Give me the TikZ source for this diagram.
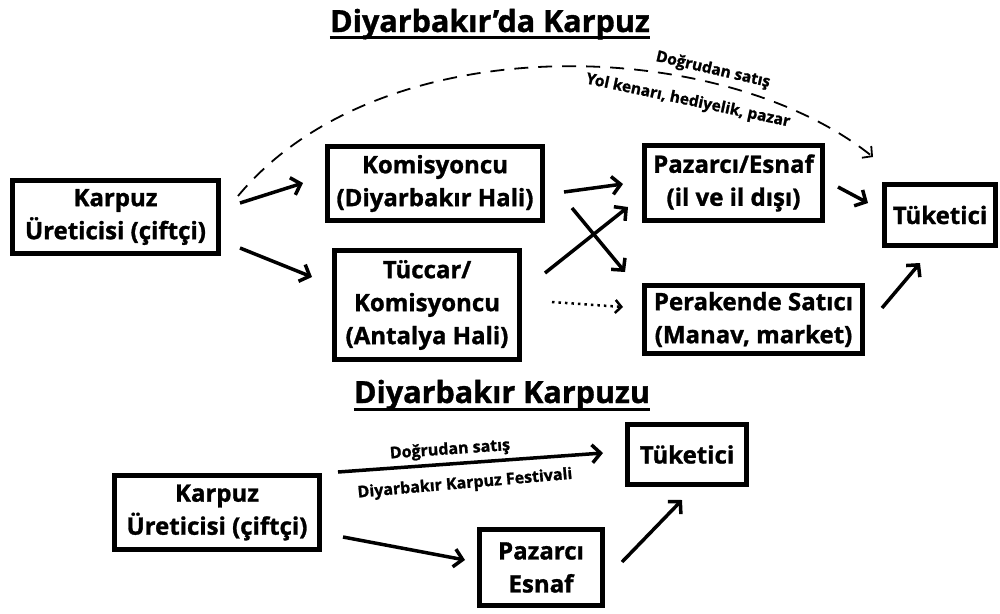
\documentclass[tikz,border=0pt]{standalone}
\usepackage{fontspec}
\setmainfont{Open Sans}[BoldFeatures={FakeBold=1.2}]
\usetikzlibrary{arrows.meta,calc}
\begin{document}
\begin{tikzpicture}[x=1pt,y=-1pt,
  box/.style={draw=black, line width=5pt, inner sep=0pt, align=center,
    font=\bfseries\fontsize{24}{33}\selectfont},
  heading/.style={anchor=base, inner sep=0pt, font=\bfseries\fontsize{30.5}{32}\selectfont},
  rule/.style={line width=3pt},
  arr/.style={line width=3.5pt, -{Straight Barb[length=8.5pt,width=18pt]}},
  dotarr/.style={line width=2.5pt, dash pattern=on 2.5pt off 4pt, -{Straight Barb[length=6pt,width=13pt]}},
  dasharr/.style={line width=1.8pt, dash pattern=on 14pt off 10pt, -{Straight Barb[length=7pt,width=15pt,line width=1.8pt]}},
  note/.style={inner sep=0pt, font=\bfseries\fontsize{15.5}{17}\selectfont},
]
\useasboundingbox (0,0) rectangle (1000,613);

% headings
\node[heading] (T1) at (490,32) {Diyarbakır'da Karpuz};
\draw[rule] ([yshift=-5.5pt]T1.base west) -- ([yshift=-5.5pt]T1.base east);
\node[heading] (T2) at (502,403) {Diyarbakır Karpuzu};
\draw[rule] ([yshift=-6.5pt]T2.base west) -- ([yshift=-6.5pt]T2.base east);

% upper chain
\node[box, minimum width=206pt, minimum height=73pt] (A) at (115.5,217) {Karpuz\\Üreticisi (çiftçi)};
\node[box, minimum width=215pt, minimum height=74pt] (B) at (435,183.5) {Komisyoncu\\(Diyarbakır Hali)};
\node[box, minimum width=185pt, minimum height=109pt] (C) at (427,305) {Tüccar/\\Komisyoncu\\(Antalya Hali)};
\node[box, minimum width=178pt, minimum height=75pt] (D) at (733.5,183) {Pazarcı/Esnaf\\(il ve il dışı)};
\node[box, minimum width=111pt, minimum height=61pt] (E) at (940,215) {Tüketici};
\node[box, minimum width=218pt, minimum height=68pt] (F) at (753.5,319.5) {Perakende Satıcı\\(Manav, market)};

\draw[arr] ($(A.east)+(19,-14)$) -- ($(B.west)+(-22,-0.5)$);
\draw[arr] ($(A.east)+(19,31)$) -- ($(C.west)+(-20,-28)$);
\draw[arr] ($(B.east)+(19,8.5)$) -- ($(D.west)+(-19,1)$);
\draw[arr] ($(B.east)+(27,24.5)$) -- ($(F.west)+(-17,-47.5)$);
\draw[arr] ($(C.east)+(23,-32)$) -- ($(D.west)+(-14,24)$);
\draw[dotarr] ($(C.east)+(30,-3)$) -- ($(F.west)+(-19,-12.5)$);
\draw[arr] ($(D.east)+(13,4)$) -- ($(E.west)+(-14,-12)$);
\draw[arr] ($(F.east)+(17,-11.5)$) -- ($(E.south)+(-20,15)$);

% direct sale route over the top
\draw[dasharr] ($(A.east)+(17,-21)$) .. controls (380,25) and (720,35) .. ($(E.north)+(-67,-25)$);
\node[note, rotate=-13] (n1) at (713,70) {Doğrudan satış};
\node[note, rotate=-12] (n2) at (688,101) {Yol kenarı, hediyelik, pazar};

% lower chain
\node[box, minimum width=205pt, minimum height=74pt] (G) at (217,512.5) {Karpuz\\Üreticisi (çiftçi)};
\node[box, minimum width=119pt, minimum height=60pt] (H) at (687,454.5) {Tüketici};
\node[box, minimum width=123pt, minimum height=76pt] (I) at (541,567.5) {Pazarcı\\Esnaf};

\draw[arr] ($(G.east)+(16,-40.5)$) -- ($(H.west)+(-22,-1.5)$);
\node[note, font=\bfseries\fontsize{16}{18}\selectfont, rotate=4] (n3) at (450,450) {Doğrudan satış};
\node[note, font=\bfseries\fontsize{16}{18}\selectfont, rotate=5] (n4) at (465,484) {Diyarbakır Karpuz Festivali};
\draw[arr] ($(G.east)+(21,24.5)$) -- ($(I.west)+(-12,-7.5)$);
\draw[arr] ($(I.east)+(17,-5.5)$) -- ($(H.south)+(-5,13)$);
\end{tikzpicture}
\end{document}
